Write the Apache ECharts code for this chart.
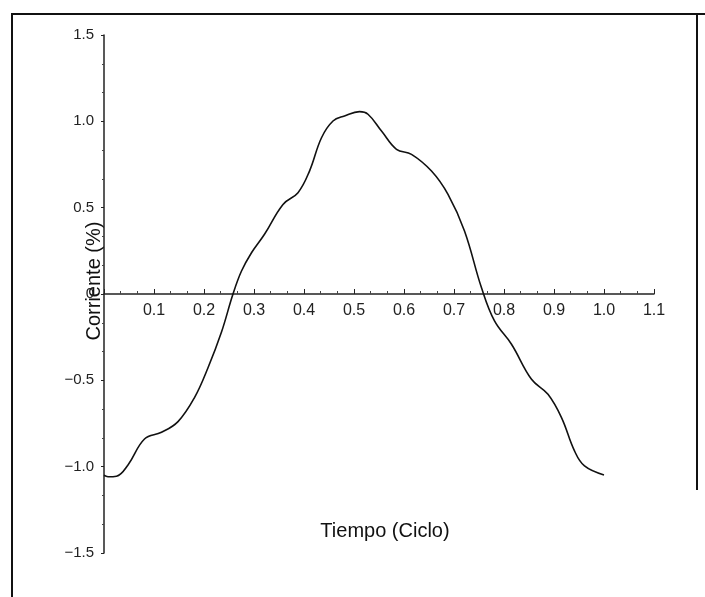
<!DOCTYPE html>
<html>
<head>
<meta charset="utf-8">
<script src="https://cdn.jsdelivr.net/npm/echarts@6/dist/echarts.min.js"></script>
<style>
html,body{margin:0;padding:0;background:#fff;}
#chart{width:705px;height:597px;}
</style>
</head>
<body>
<div id="chart"></div>
<script>
// Data
var timeCycle = [0, 0.008, 0.025, 0.048, 0.081, 0.115, 0.148, 0.181, 0.208, 0.235, 0.258, 0.275, 0.295, 0.321, 0.358, 0.388, 0.411, 0.435, 0.458, 0.481, 0.511, 0.528, 0.555, 0.585, 0.615, 0.655, 0.688, 0.721, 0.755, 0.781, 0.815, 0.855, 0.888, 0.915, 0.941, 0.961, 1.0];
var current = [-1.05, -1.058, -1.055, -0.99, -0.84, -0.801, -0.739, -0.6, -0.427, -0.22, 0, 0.133, 0.239, 0.346, 0.519, 0.587, 0.712, 0.905, 1.002, 1.031, 1.056, 1.041, 0.944, 0.838, 0.809, 0.712, 0.577, 0.365, 0.036, -0.156, -0.291, -0.494, -0.581, -0.716, -0.909, -0.996, -1.048];
var xTickLabels = ['', '0.1', '0.2', '0.3', '0.4', '0.5', '0.6', '0.7', '0.8', '0.9', '1.0', '1.1'];
var yTickLabels = ['\u22121.5', '\u22121.0', '\u22120.5', '0', '0.5', '1.0', '1.5'];
var xName = 'Tiempo (Ciclo)';
var yName = 'Corriente (%)';

var seriesData = timeCycle.map(function (t, i) { return [t, current[i]]; });

var chart = echarts.init(document.getElementById('chart'), null, { renderer: 'canvas' });
var font = 'Liberation Sans, Arial, sans-serif';
var gridTop = 35, gridH = 518;
var zeroOffset = -gridH / 2; // x axis crosses y = 0 (middle of -1.5..1.5)
chart.setOption({
  animation: false,
  backgroundColor: '#ffffff',
  grid: { left: 104, top: gridTop, width: 550, height: gridH, containLabel: false, outerBoundsMode: 'none' },
  graphic: [
    { type: 'line', shape: { x1: 11, y1: 14, x2: 705, y2: 14 }, style: { stroke: '#111', lineWidth: 2 } },
    { type: 'line', shape: { x1: 12, y1: 14, x2: 12, y2: 597 }, style: { stroke: '#111', lineWidth: 2 } },
    { type: 'line', shape: { x1: 697, y1: 14, x2: 697, y2: 490 }, style: { stroke: '#111', lineWidth: 2 } }
  ],
  xAxis: {
    type: 'value',
    position: 'bottom',
    offset: zeroOffset,
    min: 0, max: 1.1, interval: 0.1,
    name: xName,
    nameLocation: 'middle',
    nameGap: 227,
    nameMoveOverlap: false,
    nameTextStyle: { fontFamily: font, fontSize: 20, color: '#111', padding: [0, 0, 0, 12] },
    axisLine: { onZero: false, lineStyle: { color: '#222', width: 1.5 } },
    axisTick: { show: true, inside: true, length: 5, lineStyle: { color: '#222', width: 1 } },
    minorTick: { show: true, splitNumber: 3, length: 3, lineStyle: { color: '#444' } },
    axisLabel: {
      fontFamily: font, fontSize: 16, color: '#222', margin: 9,
      formatter: function (v) { return xTickLabels[Math.round(v * 10)]; }
    },
    splitLine: { show: false }
  },
  yAxis: {
    type: 'value',
    min: -1.5, max: 1.5, interval: 0.5,
    name: yName,
    nameLocation: 'middle',
    nameRotate: 90,
    nameGap: 0,
    nameMoveOverlap: false,
    nameTextStyle: { fontFamily: font, fontSize: 20, color: '#111', padding: [0, 0, 0, 26] },
    axisLine: { onZero: false, lineStyle: { color: '#222', width: 1.5 } },
    axisTick: { show: true, inside: false, length: 3, lineStyle: { color: '#222', width: 1 } },
    minorTick: { show: true, splitNumber: 3, length: 2, lineStyle: { color: '#444' } },
    axisLabel: {
      fontFamily: font, fontSize: 15, color: '#222', margin: 10,
      formatter: function (v) { return yTickLabels[Math.round((v + 1.5) * 2)]; }
    },
    splitLine: { show: false }
  },
  series: [{
    type: 'line',
    data: seriesData,
    smooth: 0.4,
    showSymbol: false,
    lineStyle: { color: '#111', width: 1.6 }
  }]
});
</script>
</body>
</html>
